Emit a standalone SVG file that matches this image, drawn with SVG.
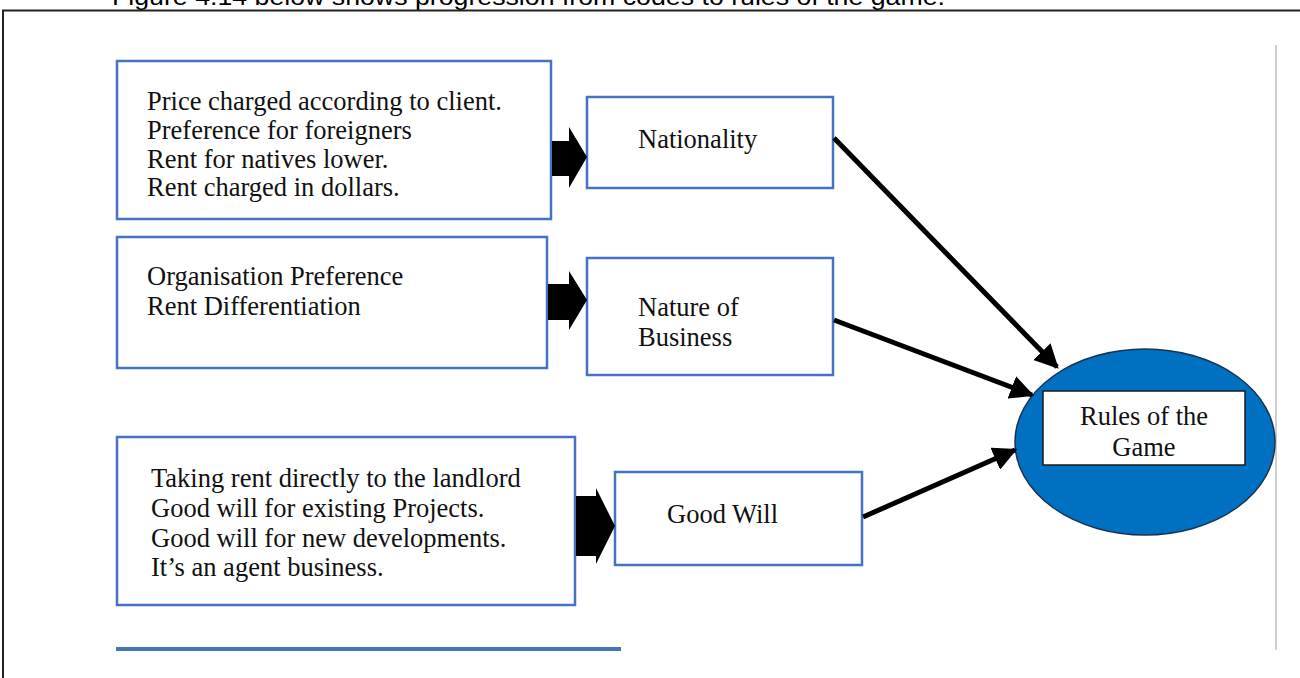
<svg xmlns="http://www.w3.org/2000/svg" width="1300" height="678" viewBox="0 0 1300 678">
<defs>
<style>
.box{fill:#fff;stroke:#4472C4;stroke-width:2.5}
.t{font-family:"Liberation Serif","Times New Roman",serif;font-size:26.5px;fill:#111}
.blk{fill:#000}
.con{stroke:#000;stroke-width:5;fill:none;marker-end:url(#ah)}
</style>
<marker id="ah" viewBox="0 0 10 10" refX="9" refY="5" markerWidth="4.8" markerHeight="4.8" orient="auto" markerUnits="strokeWidth">
<path d="M0,0 L10,5 L0,10 z" fill="#000"/>
</marker>
</defs>
<rect width="1300" height="678" fill="#fff"/>
<text x="112" y="5" font-family="'Liberation Sans',Arial,sans-serif" font-size="24" fill="#000" textLength="833" lengthAdjust="spacingAndGlyphs">Figure 4.14 below shows progression from codes to rules of the game.</text>
<path d="M3,678 L3,10.5 L1300,10.5" fill="none" stroke="#222" stroke-width="2"/>
<line x1="1276" y1="45" x2="1276" y2="650" stroke="#cfcfcf" stroke-width="2"/>

<g id="codes1">
<rect class="box" x="117" y="61" width="434" height="158"/>
<text class="t" x="147" y="110">Price charged according to client.</text>
<text class="t" x="147" y="139">Preference for foreigners</text>
<text class="t" x="147" y="168">Rent for natives lower.</text>
<text class="t" x="147" y="196">Rent charged in dollars.</text>
</g>
<g id="codes2">
<rect class="box" x="117" y="237" width="430" height="131"/>
<text class="t" x="147" y="285">Organisation Preference</text>
<text class="t" x="147" y="315">Rent Differentiation</text>
</g>
<g id="codes3">
<rect class="box" x="117" y="437" width="458" height="168"/>
<text class="t" x="151" y="487">Taking rent directly to the landlord</text>
<text class="t" x="151" y="517">Good will for existing Projects.</text>
<text class="t" x="151" y="547">Good will for new developments.</text>
<text class="t" x="151" y="576">It’s an agent business.</text>
</g>
<g id="nationality">
<rect class="box" x="587" y="97" width="246" height="91"/>
<text class="t" x="638" y="148">Nationality</text>
</g>
<g id="nature">
<rect class="box" x="587" y="258" width="246" height="117"/>
<text class="t" x="638" y="316">Nature of</text>
<text class="t" x="638" y="346">Business</text>
</g>
<g id="goodwill">
<rect class="box" x="615" y="472" width="247" height="93"/>
<text class="t" x="667" y="523">Good Will</text>
</g>
<g id="rules">
<ellipse cx="1145" cy="442" rx="130" ry="93" fill="#0070C0" stroke="#1a3350" stroke-width="1.5"/>
<rect x="1043" y="391" width="202" height="74" fill="#fff" stroke="#1a1a1a" stroke-width="1.5"/>
<text class="t" x="1144" y="425" text-anchor="middle">Rules of the</text>
<text class="t" x="1144" y="456" text-anchor="middle">Game</text>
</g>
<g id="connectors">
<path class="blk" d="M552,141 L569,141 L569,127 L587,157 L569,188 L569,176 L552,176 z"/>
<path class="blk" d="M548,284 L569,284 L569,271 L587,300 L569,330 L569,320 L548,320 z"/>
<path class="blk" d="M576,496 L596,496 L596,488 L615,526 L596,564 L596,556 L576,556 z"/>
<line class="con" x1="834" y1="138" x2="1057" y2="367"/>
<line class="con" x1="834" y1="320" x2="1032" y2="395"/>
<line class="con" x1="863" y1="517" x2="1015" y2="450"/>
</g>
<rect x="116" y="647" width="505" height="4" fill="#4A72B8"/>
</svg>
